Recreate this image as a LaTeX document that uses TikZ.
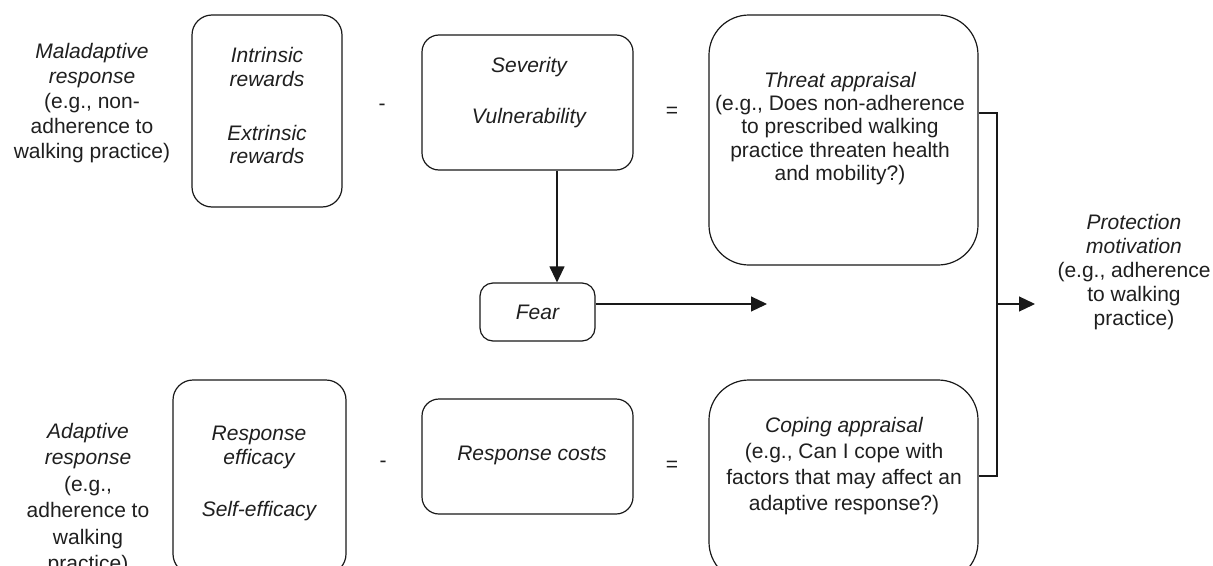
\documentclass[tikz,border=0pt]{standalone}
\usepackage{fontspec}
\setmainfont{Liberation Sans}
\usetikzlibrary{arrows.meta}
\begin{document}
\begin{tikzpicture}[x=1pt,y=-1pt,
  box/.style={draw=black!90, line width=1.2pt, rounded corners=#1, inner sep=0pt},
  lbl/.style={align=center, font=\fontsize{21}{24.5}\selectfont, inner sep=0pt, text=black!88},
  lsk/.style={font=\fontsize{21}{#1}\selectfont},
  arr/.style={draw=black!90, line width=1.2pt, -{Triangle[length=16pt,width=15pt]}},
  ln/.style={draw=black!90, line width=1.2pt}]
\useasboundingbox (0,0) rectangle (1213,565);
\clip (0,0) rectangle (1213,565);

% boxes
\node[box=20, minimum width=150pt, minimum height=192pt] (rew) at (267,111) {};
\node[box=17, minimum width=211pt, minimum height=135pt] (sev) at (527.5,102.5) {};
\node[box=40, minimum width=269pt, minimum height=250pt] (thr) at (843.5,140) {};
\node[box=13, minimum width=115pt, minimum height=58pt] (fear) at (537.5,312) {};
\node[box=20, minimum width=173pt, minimum height=194pt] (eff) at (259.5,477) {};
\node[box=17, minimum width=211pt, minimum height=115pt] (cost) at (527.5,456.5) {};
\node[box=40, minimum width=269pt, minimum height=202pt] (cop) at (843.5,481) {};

% texts
\node[lbl, lsk=25] (mal) at (92,103) {{\itshape Maladaptive}\\{\itshape response}\\(e.g., non-\\adherence to\\walking practice)};
\node[lbl, lsk=23.5] (rewt) at (267,105.5) {\itshape Intrinsic\\\itshape rewards\\[30.5pt]\itshape Extrinsic\\\itshape rewards};
\node[lbl] (minus1) at (382,107) {-};
\node[lbl] (sevt) at (529,92.5) {\itshape Severity\\[26.5pt]\itshape Vulnerability};
\node[lbl] (eq1) at (672,112) {=};
\node[lbl, lsk=23.3] (thrt) at (840,128.5) {{\itshape Threat appraisal}\\(e.g., Does non-adherence\\to prescribed walking\\practice threaten health\\and mobility?)};
\node[lbl] (feart) at (537.5,312) {\itshape Fear};
\node[lbl, lsk=24] (prot) at (1134,272) {{\itshape Protection}\\{\itshape motivation}\\(e.g., adherence\\to walking\\practice)};
\node[lbl, lsk=26.5] (ada) at (88,499) {{\itshape Adaptive}\\{\itshape response}\\(e.g.,\\adherence to\\walking\\practice)};
\node[lbl] (efft) at (259,473.5) {\itshape Response\\\itshape efficacy\\[27.5pt]\itshape Self-efficacy};
\node[lbl] (minus2) at (383,464) {-};
\node[lbl] (costt) at (532,455) {\itshape Response costs};
\node[lbl] (eq2) at (672,466) {=};
\node[lbl, lsk=26] (copt) at (844,466) {{\itshape Coping appraisal}\\(e.g., Can I cope with\\factors that may affect an\\adaptive response?)};

% connectors
\draw[arr] ([xshift=29.5pt]sev.south) -- ([xshift=19.5pt]fear.north);
\coordinate (fearend) at (767,304);
\draw[arr] (fear.east |- fearend) -- (fearend);
\coordinate (bt) at (997,113);
\coordinate (bb) at (997,476);
\coordinate (bm) at (997,304);
\coordinate (pend) at (1035,304);
\draw[ln] (thr.east |- bt) -- (bt) -- (bb) -- (cop.east |- bb);
\draw[arr] (bm) -- (pend);
\end{tikzpicture}
\end{document}
